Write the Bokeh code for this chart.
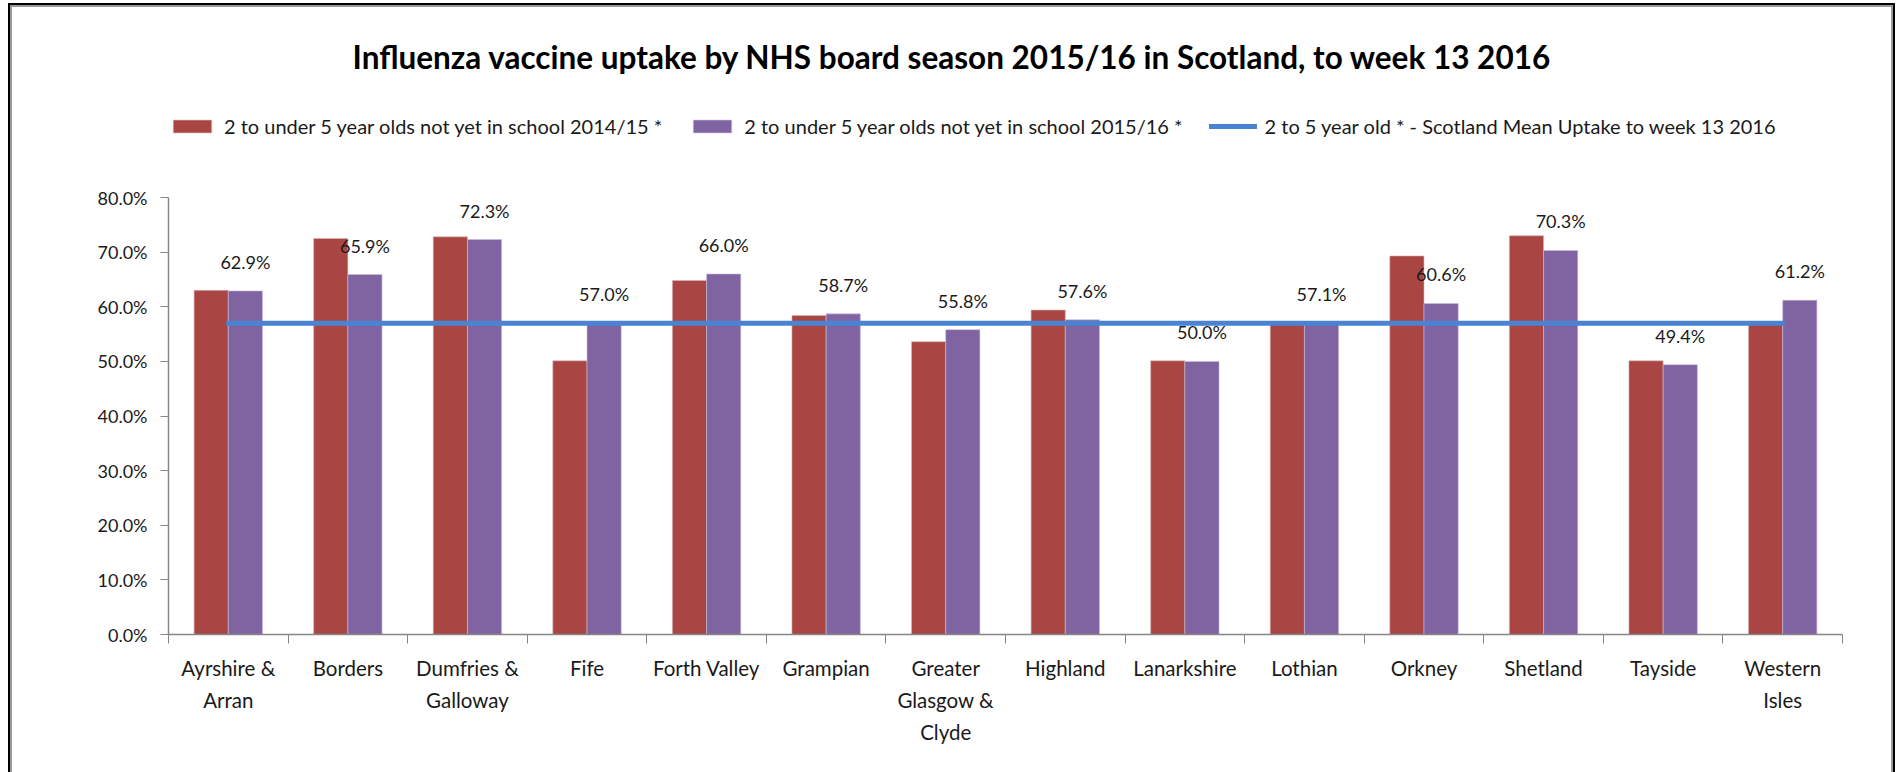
from bokeh.plotting import figure
from bokeh.models import (Range1d, FixedTicker, PrintfTickFormatter, ColumnDataSource,
                          LabelSet, Label, Legend, LegendItem, InlineStyleSheet)
from bokeh.core.properties import value
from bokeh.embed import file_html
from bokeh.resources import INLINE

# ---------------- data ----------------
boards = ["Ayrshire & Arran", "Borders", "Dumfries & Galloway", "Fife", "Forth Valley",
          "Grampian", "Greater Glasgow & Clyde", "Highland", "Lanarkshire", "Lothian",
          "Orkney", "Shetland", "Tayside", "Western Isles"]
tick_labels = ["Ayrshire &\nArran", "Borders", "Dumfries &\nGalloway", "Fife", "Forth Valley",
               "Grampian", "Greater\nGlasgow &\nClyde", "Highland", "Lanarkshire", "Lothian",
               "Orkney", "Shetland", "Tayside", "Western\nIsles"]
uptake_2014_15 = [63.0, 72.5, 72.8, 50.1, 64.8, 58.4, 53.6, 59.4, 50.1, 57.0, 69.3, 73.0, 50.1, 57.0]
uptake_2015_16 = [62.9, 65.9, 72.3, 57.0, 66.0, 58.7, 55.8, 57.6, 50.0, 57.1, 60.6, 70.3, 49.4, 61.2]
scotland_mean = 57.0
y_ticks = [0, 10, 20, 30, 40, 50, 60, 70, 80]

series_names = ["2 to under 5 year olds not yet in school 2014/15 *",
                "2 to under 5 year olds not yet in school 2015/16 *",
                "2 to 5 year old * - Scotland Mean Uptake to week 13 2016"]
title_text = "Influenza vaccine uptake by NHS board season 2015/16 in Scotland, to week 13 2016"

# ---------------- style ----------------
FONT = "Lato"
RED = "#A94643"
PURPLE = "#8064A2"
BLUE = "#4A83D1"
AXIS = "#868686"
TXT = "#1a1a1a"

W, H = 1898, 772
L, R, B = 168, 56, 138          # frame: x 168..1842, bottom at 634
AX_TOP_PX = 197                 # pixel row of the 80% tick
TITLE_CX, TITLE_CY = 952, 56.5  # title centre (pixels)
LEGEND_BOTTOM_PX = 137.5
n = len(boards)
bar_w = 0.286

frame_h = H - B
px_per_y = (frame_h - AX_TOP_PX) / (y_ticks[-1] - y_ticks[0])
px_per_x = (W - L - R) / n
y_top = y_ticks[-1] + AX_TOP_PX / px_per_y      # frame reaches the top of the canvas

centers = [i + 0.5 for i in range(n)]
src = ColumnDataSource(dict(
    x_red=[c - bar_w / 2 for c in centers],
    x_pur=[c + bar_w / 2 for c in centers],
    red=uptake_2014_15,
    pur=uptake_2015_16,
    lbl=[f"{v:.1f}%" for v in uptake_2015_16],
))

p = figure(width=W, height=H, output_backend="svg", toolbar_location=None,
           x_range=Range1d(0, n), y_range=Range1d(y_ticks[0], y_top),
           min_border_left=L, min_border_right=R, min_border_top=0, min_border_bottom=B,
           background_fill_color="white", border_fill_color="white")
p.outline_line_color = None
p.xgrid.visible = False
p.ygrid.visible = False

r_red = p.vbar(x="x_red", top="red", width=bar_w, bottom=0, source=src,
               fill_color=RED, line_color="#D9B5B4", line_width=0.6)
r_pur = p.vbar(x="x_pur", top="pur", width=bar_w, bottom=0, source=src,
               fill_color=PURPLE, line_color="#C9BDDB", line_width=0.6)
r_line = p.line(x=centers, y=[scotland_mean] * n, line_color=BLUE, line_width=5,
                line_cap="round")

labels = LabelSet(x="x_pur", y="pur", text="lbl", source=src, text_align="center",
                  text_baseline="middle", y_offset=29, text_font=value(FONT),
                  text_font_size="18px", text_color=TXT)
p.add_layout(labels)

# axes
xa = p.xaxis[0]
xa.ticker = FixedTicker(ticks=centers, minor_ticks=list(range(n + 1)))
xa.major_label_overrides = {c: t for c, t in zip(centers, tick_labels)}
xa.major_tick_out = 0
xa.major_tick_in = 0
xa.minor_tick_out = 9
xa.minor_tick_in = 0
xa.minor_tick_line_color = AXIS
xa.axis_line_color = AXIS
xa.axis_line_width = 1.5
xa.major_label_text_font = FONT
xa.major_label_text_font_size = "20.5px"
xa.major_label_text_line_height = 1.35
xa.major_label_text_color = TXT
xa.major_label_standoff = 12

ya = p.yaxis[0]
ya.bounds = (y_ticks[0], y_ticks[-1])
ya.ticker = FixedTicker(ticks=y_ticks, minor_ticks=[])
ya.formatter = PrintfTickFormatter(format="%.1f%%")
ya.major_tick_out = 8
ya.major_tick_in = 0
ya.minor_tick_out = 0
ya.minor_tick_in = 0
ya.major_tick_line_color = AXIS
ya.axis_line_color = AXIS
ya.axis_line_width = 1.5
ya.major_label_text_font = FONT
ya.major_label_text_font_size = "18px"
ya.major_label_text_color = TXT
ya.major_label_standoff = 13

# title (inside the extended frame)
p.add_layout(Label(x=(TITLE_CX - L) / px_per_x,
                   y=y_ticks[-1] + (AX_TOP_PX - TITLE_CY) / px_per_y,
                   text=title_text, text_align="center", text_baseline="middle",
                   text_font=FONT, text_font_size="31.5px", text_font_style="bold",
                   text_color="black"))

# legend (inside the extended frame)
legend = Legend(items=[LegendItem(label=series_names[0], renderers=[r_red]),
                       LegendItem(label=series_names[1], renderers=[r_pur]),
                       LegendItem(label=series_names[2], renderers=[r_line])],
                orientation="horizontal", location=(0, frame_h - LEGEND_BOTTOM_PX),
                glyph_width=48, glyph_height=16, label_height=24, label_standoff=8,
                spacing=26, padding=0, margin=0, border_line_color=None,
                background_fill_alpha=0, label_text_font=FONT,
                label_text_font_size="20px", label_text_color=TXT)
p.add_layout(legend, "center")

# chart border drawn by the page (black outer line, grey inner line)
p.stylesheets = [InlineStyleSheet(css="""
:host::after { content: ""; position: absolute; left: 8px; top: 3px; right: 3px; bottom: 0;
  border: 2px solid #000; border-bottom: none; pointer-events: none; z-index: 20; }
:host::before { content: ""; position: absolute; left: 10px; top: 5px; right: 5px; bottom: 0;
  border: 2px solid #9a9a9a; border-bottom: none; pointer-events: none; z-index: 19; }
""")]

open("out.html", "w").write(file_html(p, INLINE))
